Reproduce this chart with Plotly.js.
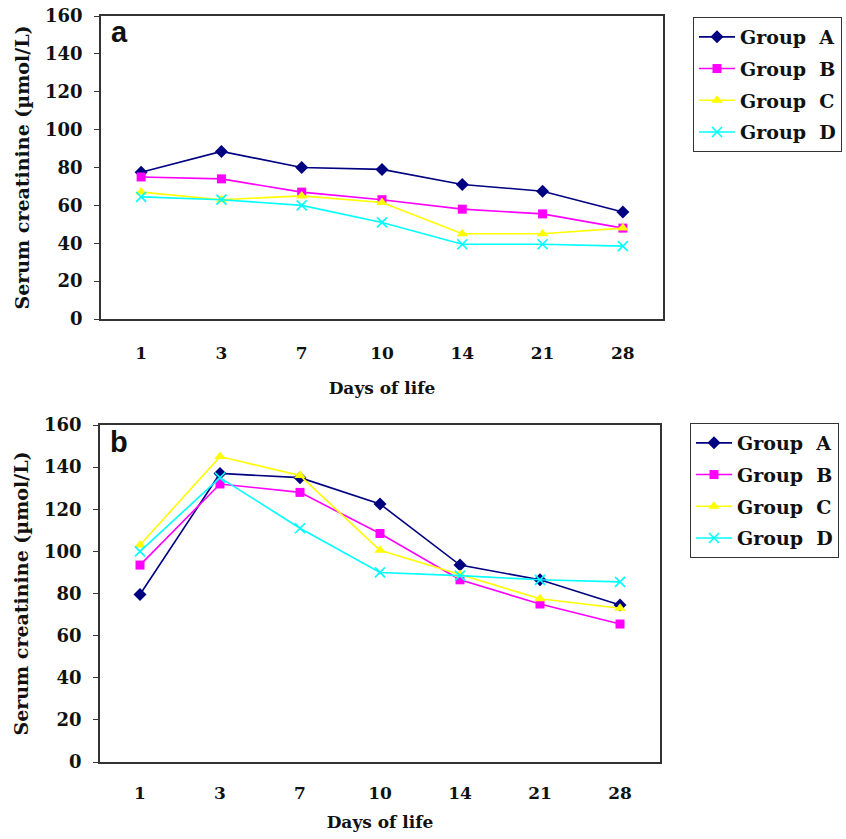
<!DOCTYPE html>
<html>
<head>
<meta charset="utf-8">
<script src="https://cdn.plot.ly/plotly-3.0.1.min.js"></script>
<style>html,body{margin:0;padding:0;background:#fff;}#chart{width:846px;height:839px;}</style>
</head>
<body>
<div id="chart"></div>
<script>
// Days of life (categories)
var days = ['1', '3', '7', '10', '14', '21', '28'];
var groupNames = ['Group\u00a0 A', 'Group\u00a0 B', 'Group\u00a0 C', 'Group\u00a0 D'];
var yTicks = [0, 20, 40, 60, 80, 100, 120, 140, 160];

// Panel a
var aGroupA = [77.5, 88.5, 80, 79, 71, 67.5, 56.5];
var aGroupB = [75, 74, 67, 63, 58, 55.5, 48];
var aGroupC = [67, 63, 65, 61.5, 45, 45, 48];
var aGroupD = [64.5, 63, 60, 51, 39.5, 39.5, 38.5];

// Panel b
var bGroupA = [79.5, 137, 135, 122.5, 93.5, 86.5, 74.5];
var bGroupB = [93.5, 132, 128, 108.5, 86.5, 75, 65.5];
var bGroupC = [103, 145, 136, 100.5, 89, 77.5, 73];
var bGroupD = [100, 135, 111, 90, 88.5, 86.5, 85.5];

var colors = ['#000080', '#FF00FF', '#FFFF00', '#00FFFF'];
var symbols = ['diamond', 'square', 'triangle-up', 'x-thin-open'];
var sizes = [10, 9, 10, 10];

var serif = 'DejaVu Serif, serif';

function makeTrace(y, i, xa, ya, leg) {
  var marker = {symbol: symbols[i], size: sizes[i], color: colors[i]};
  if (symbols[i] === 'x-thin-open') marker.line = {color: colors[i], width: 1.6};
  else marker.line = {width: 0};
  return {
    x: days, y: y, type: 'scatter', mode: 'lines+markers',
    name: groupNames[i], xaxis: xa, yaxis: ya, legend: leg,
    legendgroup: leg + i,
    line: {color: colors[i], width: 1.6},
    marker: marker
  };
}

var data = [];
[aGroupA, aGroupB, aGroupC, aGroupD].forEach(function (s, i) { data.push(makeTrace(s, i, 'x', 'y', 'legend')); });
[bGroupA, bGroupB, bGroupC, bGroupD].forEach(function (s, i) { data.push(makeTrace(s, i, 'x2', 'y2', 'legend2')); });

function xAxis(domain, anchor, standoff, titleStandoff) {
  return {
    domain: domain, anchor: anchor, type: 'category', range: [-0.5, 6.5],
    showline: true, mirror: true, linecolor: '#333', linewidth: 1.5,
    showgrid: false, zeroline: false, ticks: '', ticklabelstandoff: standoff,
    tickfont: {family: serif, size: 17, color: '#111', weight: 'bold'},
    title: {text: 'Days of life', standoff: titleStandoff, font: {family: serif, size: 17, color: '#111', weight: 'bold'}},
    automargin: false, fixedrange: true
  };
}
function yAxis(domain, anchor) {
  return {
    domain: domain, anchor: anchor, range: [0, 160], tickvals: yTicks,
    showline: true, mirror: true, linecolor: '#333', linewidth: 1.5,
    showgrid: false, zeroline: false, ticks: 'outside', ticklen: 5, tickwidth: 1, tickcolor: '#333',
    ticklabelstandoff: 8,
    tickfont: {family: serif, size: 18, color: '#111', weight: 'bold'},
    title: {text: 'Serum creatinine (µmol/L)', standoff: 10, font: {family: serif, size: 19, color: '#111', weight: 'bold'}},
    automargin: false, fixedrange: true
  };
}

var legendBase = {
  xanchor: 'left', yanchor: 'top', bgcolor: '#fff', bordercolor: '#333', borderwidth: 1,
  font: {family: serif, size: 19, color: '#111', weight: 'bold'},
  itemwidth: 36,
  traceorder: 'grouped', tracegroupgap: 4, itemclick: false, itemdoubleclick: false
};

var layout = {
  width: 846, height: 839,
  margin: {l: 0, r: 0, t: 0, b: 0},
  paper_bgcolor: '#fff', plot_bgcolor: '#fff',
  showlegend: true,
  xaxis: xAxis([101 / 846, 663 / 846], 'y', 18, 20),
  yaxis: yAxis([1 - 319 / 839, 1 - 16 / 839], 'x'),
  xaxis2: xAxis([100 / 846, 660 / 846], 'y2', 15, 14),
  yaxis2: yAxis([1 - 762 / 839, 1 - 425 / 839], 'x2'),
  legend: Object.assign({x: 693 / 846, y: 1 - 17 / 839}, legendBase),
  legend2: Object.assign({x: 690 / 846, y: 1 - 423 / 839}, legendBase),
  annotations: [
    {text: 'a', xref: 'paper', yref: 'paper', x: 109 / 846, y: 1 - 14 / 839, xanchor: 'left', yanchor: 'top',
     showarrow: false, font: {family: 'Liberation Sans, Arial, sans-serif', size: 29, color: '#111', weight: 'bold'}},
    {text: 'b', xref: 'paper', yref: 'paper', x: 108 / 846, y: 1 - 424 / 839, xanchor: 'left', yanchor: 'top',
     showarrow: false, font: {family: 'Liberation Sans, Arial, sans-serif', size: 29, color: '#111', weight: 'bold'}}
  ]
};

Plotly.newPlot('chart', data, layout, {displayModeBar: false});
</script>
</body>
</html>
